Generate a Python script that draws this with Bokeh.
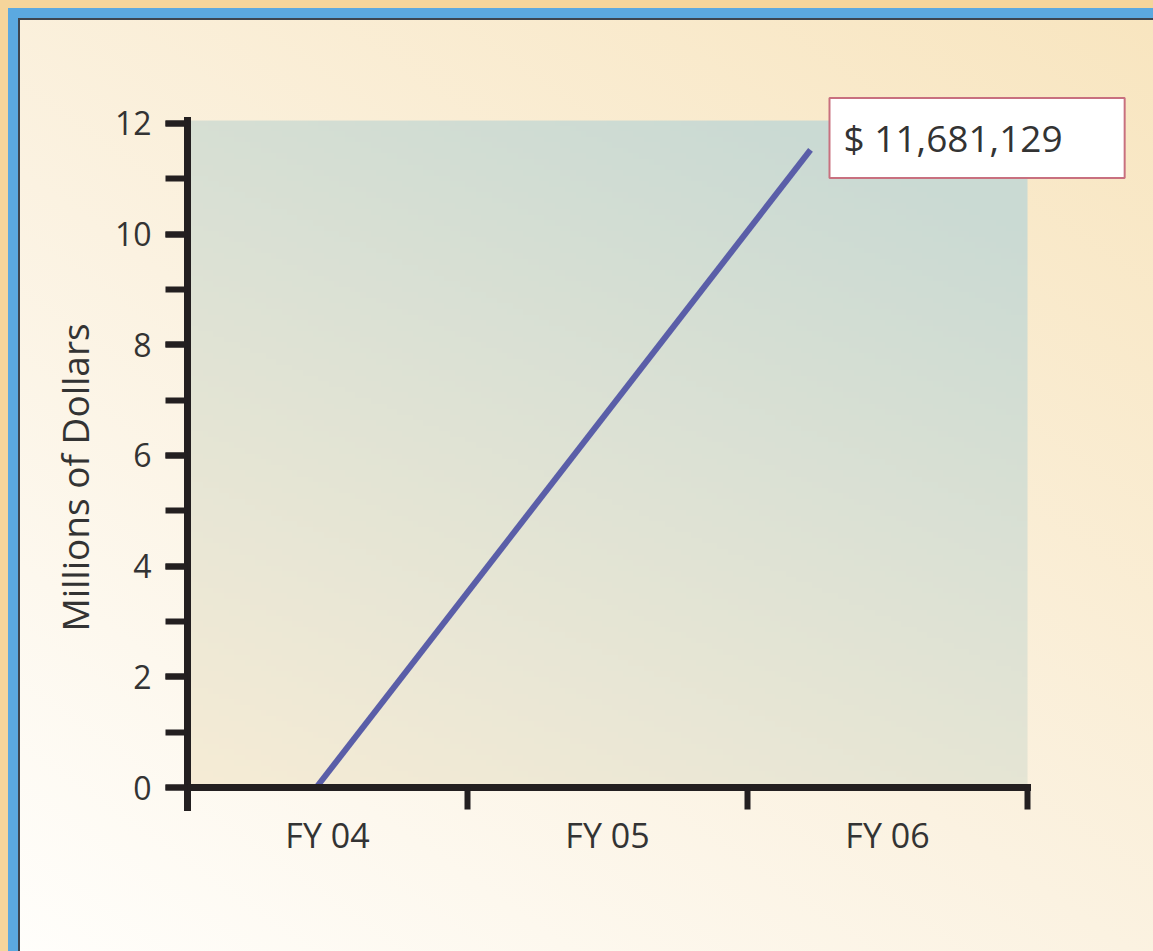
import numpy as np
from bokeh.plotting import figure
from bokeh.models import Range1d, FixedTicker, SingleIntervalTicker, Label
from bokeh.embed import file_html
from bokeh.resources import INLINE

# ---- data ----
fiscal_years = ["FY 04", "FY 05", "FY 06"]
year_centers = [0.5, 1.5, 2.5]
year_bounds = [0, 1, 2, 3]
line_x = [0.46, 2.225]          # position along the fiscal-year axis
line_millions = [0.0, 11.52]    # millions of dollars
total_label = "$ 11,681,129"

FONT = "Open Sans"
TXT = "#333333"
AXIS = "#231F20"
Y_TOP = 12.05

p = figure(width=1145, height=943, output_backend="svg", toolbar_location=None,
           x_range=Range1d(0, 3.4), y_range=Range1d(-1.662, 12.864),
           min_border_left=179, min_border_top=67, min_border_right=14,
           min_border_bottom=72,
           border_fill_color=None, background_fill_color=None,
           outline_line_color=None,
           styles={
               "background": "linear-gradient(35deg, #FFFEFB 0%, #FBF2E1 45%, #F8E5BF 100%)",
               "box-shadow": "inset 10px 10px 0 0 #5BA9E0, inset 12px 12px 0 0 #3E4650",
           })
p.grid.visible = False

# plot-area gradient background
ny, nx = 120, 160
u = np.linspace(0, 1, nx)[None, :]
v = np.linspace(0, 1, ny)[:, None]
t = np.clip(0.72 * v + 0.38 * u, 0, 1)
c0 = np.array([246, 236, 214])
c1 = np.array([202, 218, 211])
rgb = (c0[None, None, :] * (1 - t[..., None]) + c1[None, None, :] * t[..., None]).astype(np.uint8)
img = np.empty((ny, nx), dtype=np.uint32)
view = img.view(dtype=np.uint8).reshape((ny, nx, 4))
view[..., 0] = rgb[..., 0]
view[..., 1] = rgb[..., 1]
view[..., 2] = rgb[..., 2]
view[..., 3] = 255
p.image_rgba(image=[img], x=0, y=0, dw=len(fiscal_years), dh=Y_TOP)

# line
p.line(line_x, line_millions, line_color="#5A5EA8", line_width=6)

# annotation box
p.add_layout(Label(x=line_x[-1], y=line_millions[-1], x_offset=19, y_offset=12,
                   text=total_label, text_font=FONT, text_font_size="37px",
                   text_color=TXT, text_align="left", text_baseline="middle",
                   background_fill_color="white", border_line_color="#C8707F",
                   border_line_width=2,
                   padding=dict(left=14, right=62, top=14, bottom=15)))

# y axis (line continues down to form the first x tick)
ya = p.yaxis[0]
ya.bounds = (-0.36, Y_TOP)
ya.ticker = SingleIntervalTicker(interval=2, num_minor_ticks=2)
ya.axis_line_width = 7
ya.axis_line_color = AXIS
ya.axis_line_cap = "square"
ya.major_tick_line_color = AXIS
ya.major_tick_line_width = 6
ya.major_tick_out = 22
ya.major_tick_in = 0
ya.minor_tick_line_color = AXIS
ya.minor_tick_line_width = 6
ya.minor_tick_out = 22
ya.minor_tick_in = 0
ya.major_label_standoff = 14
ya.major_label_text_font = FONT
ya.major_label_text_font_size = "32px"
ya.major_label_text_color = TXT
ya.axis_label = "Millions of Dollars"
ya.axis_label_text_font = FONT
ya.axis_label_text_font_size = "37px"
ya.axis_label_text_font_style = "normal"
ya.axis_label_text_color = TXT
ya.axis_label_standoff = 12

# x axis (drawn at y = 0)
xa = p.xaxis[0]
xa.fixed_location = 0
xa.bounds = (0, len(fiscal_years))
xa.ticker = FixedTicker(ticks=year_centers, minor_ticks=year_bounds)
xa.major_label_overrides = {c: f for c, f in zip(year_centers, fiscal_years)}
xa.axis_line_width = 7
xa.axis_line_color = AXIS
xa.axis_line_cap = "square"
xa.major_tick_line_color = None
xa.major_tick_out = 0
xa.major_tick_in = 0
xa.minor_tick_line_color = AXIS
xa.minor_tick_line_width = 6
xa.minor_tick_out = 22
xa.minor_tick_in = 0
xa.major_label_standoff = 2
xa.major_label_text_font = FONT
xa.major_label_text_font_size = "34px"
xa.major_label_text_color = TXT

html = file_html(p, INLINE)
html = html.replace("</head>",
                    "<style>body{margin:8px 0 0 8px;background:#F5D59B;overflow:hidden}</style></head>", 1)
open("out.html", "w").write(html)
